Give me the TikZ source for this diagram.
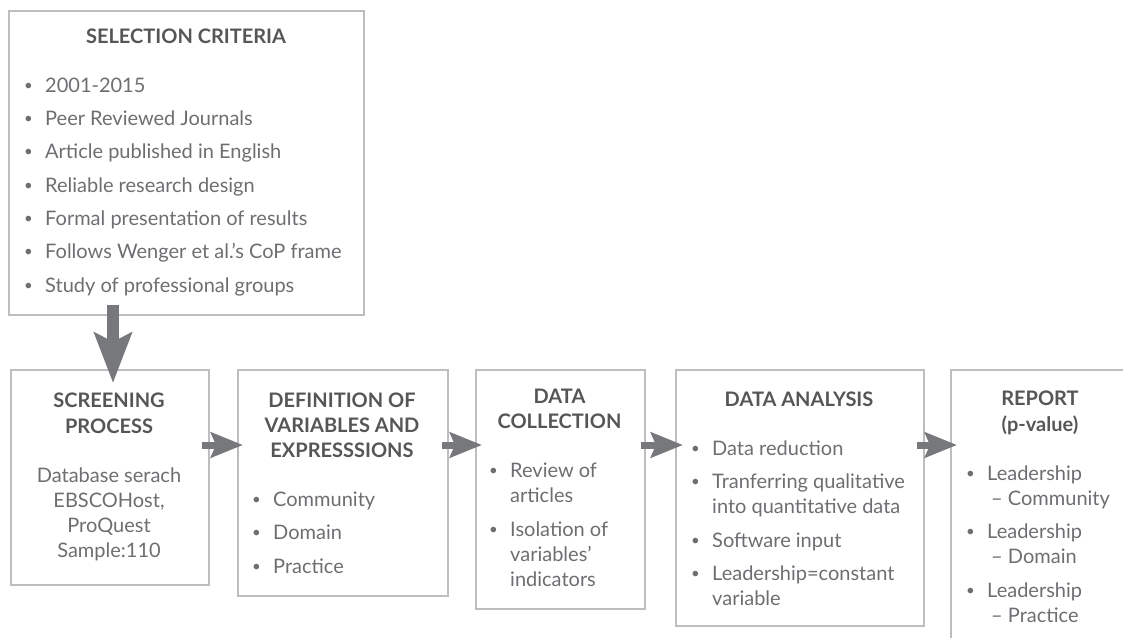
\documentclass[tikz,border=0pt]{standalone}
\usepackage{fontspec}
\setmainfont{Lato}
\usetikzlibrary{arrows.meta}
\definecolor{boxgray}{HTML}{BDBEC0}
\definecolor{arrowgray}{HTML}{77787B}
\definecolor{headgray}{HTML}{555658}
\definecolor{textgray}{HTML}{6D6E71}
\newcommand{\bl}{\llap{\makebox[21pt][l]{\raisebox{2pt}{\fontsize{15}{15}\selectfont\textbullet}}}}
\tikzset{
  stagebox/.style={draw=boxgray, line width=2pt, rectangle, inner sep=0pt, anchor=north west},
  head/.style={text=headgray, inner sep=0pt, font=\bfseries\fontsize{20}{25}\selectfont, align=center},
  body/.style={text=textgray, inner sep=0pt, font=\fontsize{20}{25}\selectfont},
  bodyl/.style={body, anchor=base west, align=left},
  bodyc/.style={body, anchor=base, align=center},
  harrow/.style={draw=arrowgray, line width=7pt, -{Stealth[length=32pt,width=25pt,inset=5pt]}},
  varrow/.style={draw=arrowgray, line width=12pt, -{Stealth[length=50pt,width=37pt,inset=9pt]}},
}
\begin{document}
\begin{tikzpicture}[x=1pt,y=-1pt]
\useasboundingbox (0,0) rectangle (1123,637);
\clip (0,0) rectangle (1123,637);
% boxes
\node[stagebox, minimum width=355pt, minimum height=304pt] (sel) at (8,10) {};
\node[stagebox, minimum width=198pt, minimum height=215pt] (scr) at (10,369) {};
\node[stagebox, minimum width=210pt, minimum height=226pt] (def) at (237,369) {};
\node[stagebox, minimum width=169pt, minimum height=239pt] (dc) at (475,369) {};
\node[stagebox, minimum width=248pt, minimum height=256pt] (da) at (675,369) {};
\node[stagebox, minimum width=250pt, minimum height=300pt] (rep) at (950,369) {};
% selection criteria
\node[head, anchor=base] (selh) at (186,43) {SELECTION CRITERIA};
\node[bodyl] (sel1) at (45,92) {\bl 2001-2015};
\node[bodyl] (sel2) at (45,125) {\bl Peer Reviewed Journals};
\node[bodyl] (sel3) at (45,158) {\bl Article published in English};
\node[bodyl] (sel4) at (45,192) {\bl Reliable research design};
\node[bodyl] (sel5) at (45,225) {\bl Formal presentation of results};
\node[bodyl] (sel6) at (45,258) {\bl Follows Wenger et al.’s CoP frame};
\node[bodyl] (sel7) at (45,292) {\bl Study of professional groups};
% screening
\node[head, anchor=base] (scrh1) at (109,407) {SCREENING};
\node[head, anchor=base] (scrh2) at (109,433) {PROCESS};
\node[bodyc] (scr1) at (109,482) {Database serach};
\node[bodyc] (scr2) at (109,507) {EBSCOHost,};
\node[bodyc] (scr3) at (109,532) {ProQuest};
\node[bodyc] (scr4) at (109,557) {Sample:110};
% definition
\node[head, anchor=base] (defh1) at (342,407) {DEFINITION OF};
\node[head, anchor=base] (defh2) at (342,432) {VARIABLES AND};
\node[head, anchor=base] (defh3) at (342,457) {EXPRESSSIONS};
\node[bodyl] (def1) at (273,506) {\bl Community};
\node[bodyl] (def2) at (273,539) {\bl Domain};
\node[bodyl] (def3) at (273,573) {\bl Practice};
% data collection
\node[head, anchor=base] (dch1) at (559.5,403) {DATA};
\node[head, anchor=base] (dch2) at (559.5,428) {COLLECTION};
\node[bodyl] (dc1) at (510,502) {\bl Review of\\articles};
\node[bodyl] (dc2) at (510,586) {\bl Isolation of\\variables'\\indicators};
% data analysis
\node[head, anchor=base] (dah) at (799,406) {DATA ANALYSIS};
\node[bodyl] (da1) at (712,455) {\bl Data reduction};
\node[bodyl] (da2) at (712,513) {\bl Tranferring qualitative\\into quantitative data};
\node[bodyl] (da3) at (712,547) {\bl Software input};
\node[bodyl] (da4) at (712,605) {\bl Leadership=constant\\variable};
% report
\node[head, anchor=base] (reph1) at (1040,405) {REPORT};
\node[head, anchor=base] (reph2) at (1040,431) {(p-value)};
\node[bodyl] (rep1) at (987,505) {\bl Leadership\\\hspace*{4pt}– Community};
\node[bodyl] (rep2) at (987,563) {\bl Leadership\\\hspace*{4pt}– Domain};
\node[bodyl] (rep3) at (987,622) {\bl Leadership\\\hspace*{4pt}– Practice};
% arrows
\draw[varrow] ([xshift=105pt,yshift=11pt]sel.south west) -- ([xshift=103pt,yshift=-14pt]scr.north west);
\draw[harrow] ([xshift=-8pt,yshift=-76pt]scr.north east) -- ([xshift=6pt,yshift=-76pt]def.north west);
\draw[harrow] ([xshift=-7pt,yshift=-76pt]def.north east) -- ([xshift=7pt,yshift=-76pt]dc.north west);
\draw[harrow] ([xshift=-5pt,yshift=-76pt]dc.north east) -- ([xshift=8pt,yshift=-76pt]da.north west);
\draw[harrow] ([xshift=-8pt,yshift=-76pt]da.north east) -- ([xshift=7pt,yshift=-76pt]rep.north west);
\end{tikzpicture}
\end{document}
